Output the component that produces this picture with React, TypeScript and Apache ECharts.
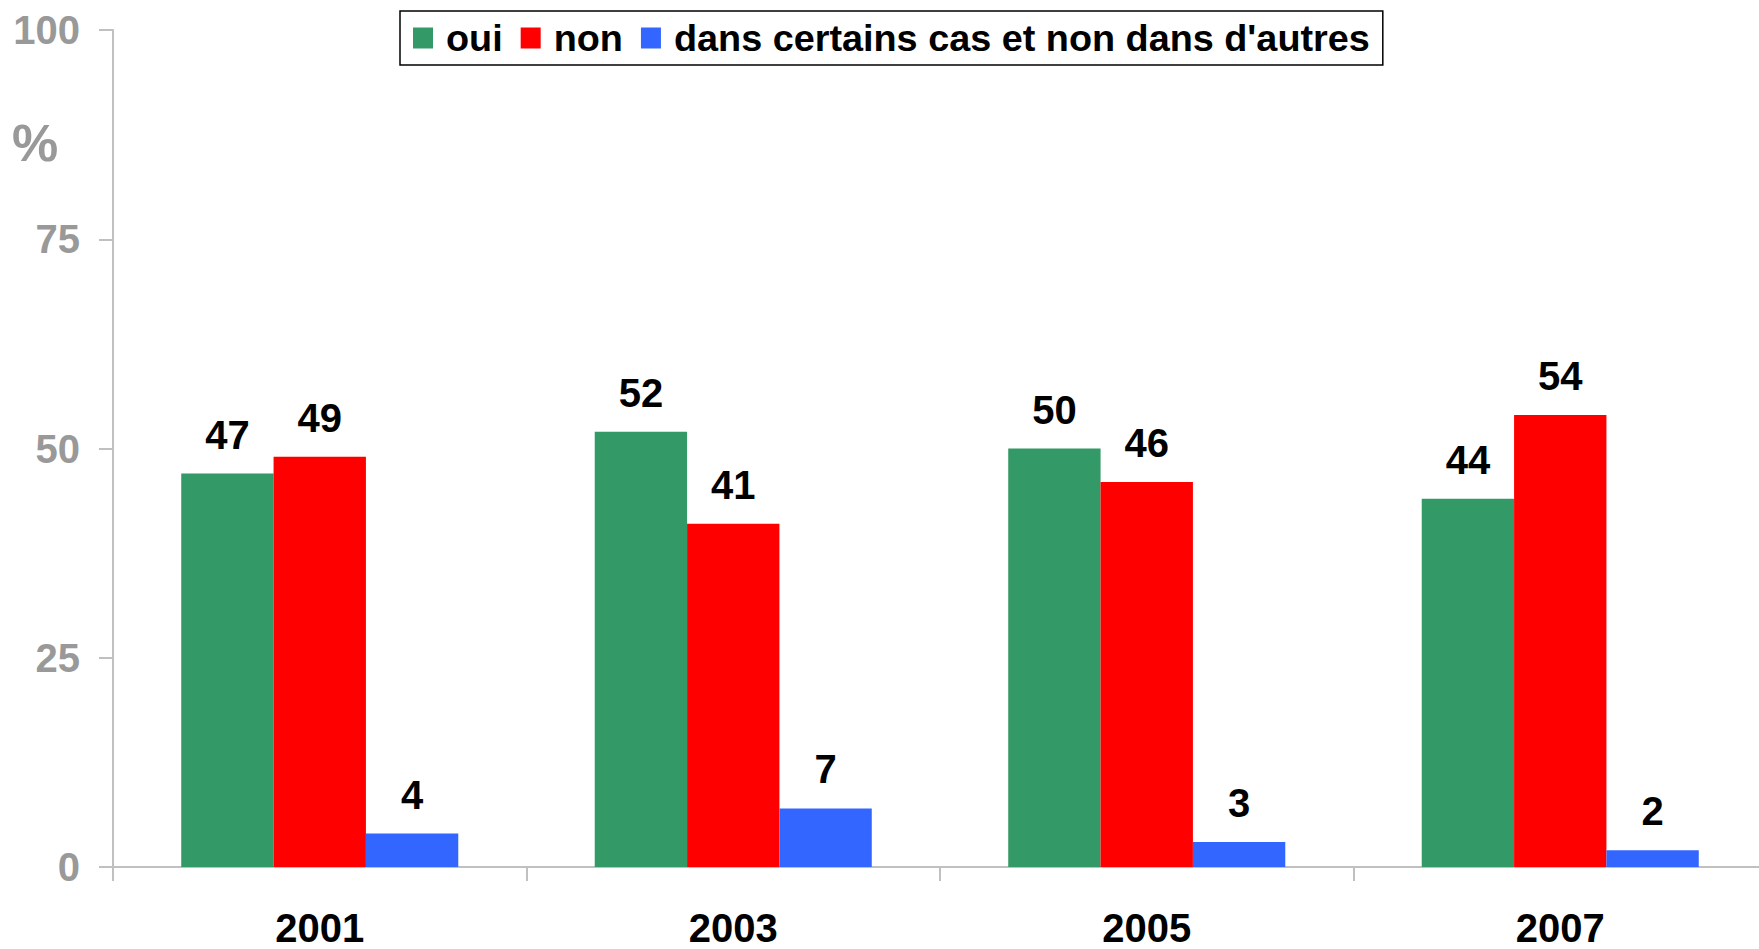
import React, { useEffect, useRef } from "react";
import * as echarts from "echarts";

const categories = ["2001", "2003", "2005", "2007"];
const seriesNames = ["oui", "non", "dans certains cas et non dans d'autres"];
const ouiValues = [47, 52, 50, 44];
const nonValues = [49, 41, 46, 54];
const casValues = [4, 7, 3, 2];
const colors = ["#339966", "#FF0000", "#3366FF"];
const yTicks = { min: 0, max: 100, interval: 25 };

export default function App() {
  const ref = useRef<HTMLDivElement>(null);
  useEffect(() => {
    document.body.style.margin = "0";
    const chart = echarts.init(ref.current!, null, { renderer: "svg" });
    const font = "'Liberation Sans', Arial, sans-serif";
    const labelStyle = {
      show: true,
      position: "top" as const,
      distance: 19,
      fontSize: 40,
      fontWeight: "bold" as const,
      color: "#000",
      fontFamily: font,
    };
    const values = [ouiValues, nonValues, casValues];
    chart.setOption({
      animation: false,
      backgroundColor: "#fff",
      textStyle: { fontFamily: font },
      grid: { left: 113, right: 0, top: 30, bottom: 82, containLabel: false },
      legend: {
        left: 400,
        top: 11,
        padding: [8, 13, 8, 13],
        borderColor: "#000",
        borderWidth: 1.5,
        itemWidth: 20,
        itemHeight: 21,
        itemGap: 18,
        icon: "rect",
        data: seriesNames,
        textStyle: {
          fontSize: 37.8,
          fontWeight: "bold",
          color: "#000",
          fontFamily: font,
          padding: [0, 0, 0, 8],
        },
      },
      graphic: [
        {
          type: "text",
          left: 12,
          top: 117,
          style: {
            text: "%",
            fontSize: 52,
            fontWeight: "bold",
            fill: "#999999",
            fontFamily: font,
          },
        },
      ],
      xAxis: {
        type: "category",
        data: categories,
        axisLine: { show: true, lineStyle: { color: "#C0C0C0", width: 2 } },
        axisTick: { show: true, length: 14, lineStyle: { color: "#C0C0C0", width: 2 } },
        axisLabel: {
          margin: 41,
          fontSize: 40,
          lineHeight: 40,
          fontWeight: "bold",
          color: "#000",
          fontFamily: font,
        },
      },
      yAxis: {
        type: "value",
        min: yTicks.min,
        max: yTicks.max,
        interval: yTicks.interval,
        splitLine: { show: false },
        axisLine: { show: true, lineStyle: { color: "#C0C0C0", width: 2 } },
        axisTick: { show: true, length: 14, lineStyle: { color: "#C0C0C0", width: 2 } },
        axisLabel: {
          margin: 33,
          fontSize: 40,
          fontWeight: "bold",
          color: "#999999",
          fontFamily: font,
        },
      },
      series: seriesNames.map((name, i) => ({
        name,
        type: "bar",
        data: values[i],
        barGap: "0%",
        barCategoryGap: "33%",
        itemStyle: { color: colors[i] },
        label: labelStyle,
      })),
    });
    return () => chart.dispose();
  }, []);
  return (
    <div style={{ position: "absolute", left: 0, top: 0, width: 1759, height: 949, overflow: "hidden" }}>
      <div ref={ref} style={{ position: "absolute", left: 0, top: 0, width: 1767, height: 949 }} />
    </div>
  );
}
